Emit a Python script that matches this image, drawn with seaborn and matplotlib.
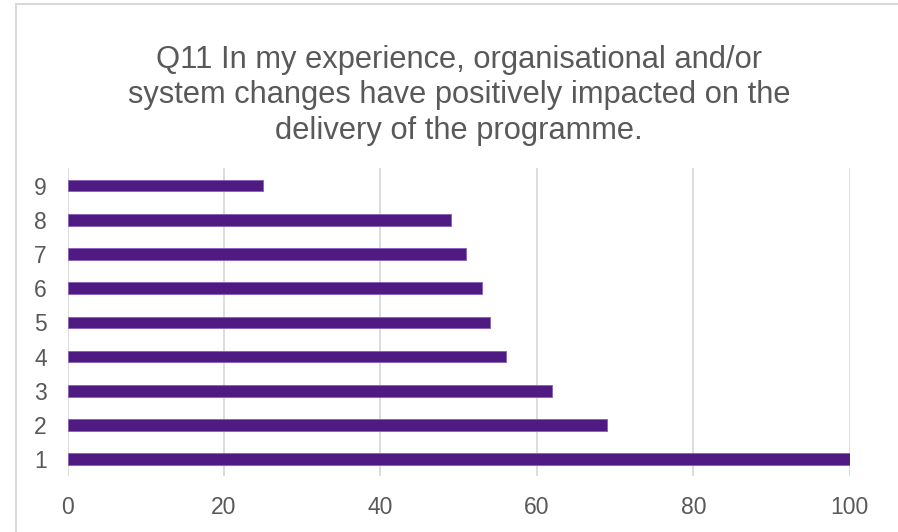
import matplotlib
matplotlib.use("Agg")
import matplotlib.pyplot as plt
from matplotlib.patches import Rectangle
import seaborn as sns
import pandas as pd

# Survey responses per rating
categories = ["1", "2", "3", "4", "5", "6", "7", "8", "9"]
values = [100, 69, 62, 56, 54, 53, 51, 49, 25]
x_ticks = [0, 20, 40, 60, 80, 100]
title = ("Q11 In my experience, organisational and/or\n"
         "system changes have positively impacted on the\n"
         "delivery of the programme.")

sns.set_theme(style="white")
plt.rcParams["font.family"] = ["Liberation Sans", "DejaVu Sans"]

text_color = "#595959"
grid_color = "#d9d9d9"
bar_color = "#4f1a82"

df = pd.DataFrame({"category": categories, "value": values})

fig = plt.figure(figsize=(8.98, 5.32), dpi=100)
ax = fig.add_axes([0.0752, 0.1045, 0.871, 0.5788])

sns.barplot(data=df, x="value", y="category", order=categories[::-1],
            orient="h", color=bar_color, width=0.34, saturation=1,
            edgecolor="#8a5fb8", linewidth=0.6, ax=ax)

ax.set_xlim(0, 100)
ax.set_xticks(x_ticks)
ax.set_xlabel("")
ax.set_ylabel("")
ax.xaxis.grid(True, color=grid_color, linewidth=1.3)
ax.yaxis.grid(False)
ax.set_axisbelow(True)
for s in ax.spines.values():
    s.set_visible(False)
ax.tick_params(axis="both", length=0, labelsize=16.5, colors=text_color)
ax.tick_params(axis="x", pad=14)
ax.tick_params(axis="y", pad=15)

fig.text(0.511, 0.8205, title, ha="center", va="center", fontsize=22.2,
         color=text_color, linespacing=1.22)

# Chart frame
fig.add_artist(Rectangle((0.0178, -0.2), 2, 1.1925, transform=fig.transFigure,
                         fill=False, edgecolor=grid_color, linewidth=1.5))

fig.savefig("out.png", dpi=100)
